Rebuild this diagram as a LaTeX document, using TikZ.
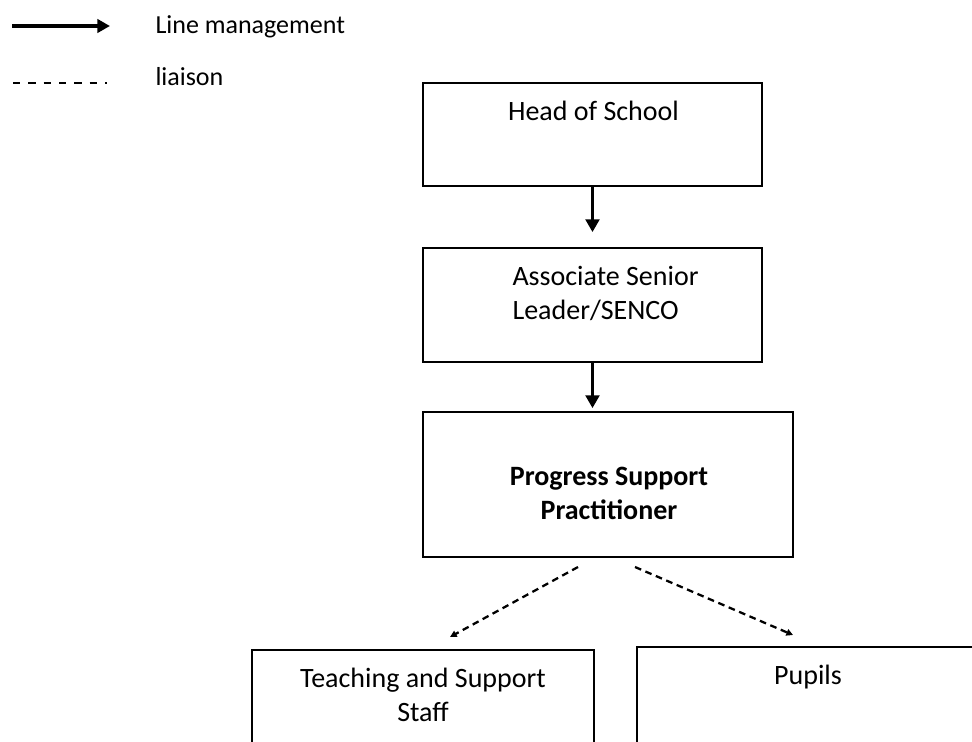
\documentclass[tikz,border=0pt]{standalone}
\usepackage{fontspec}
\setmainfont{Carlito}
\usetikzlibrary{arrows.meta,calc}

\tikzset{every picture/.style={line width=0.75pt}}
\tikzset{
  box/.style={draw, line width=1.25pt, inner sep=0pt, outer sep=0pt, anchor=north west},
  boxtext/.style={inner sep=0pt, font=\fontsize{21}{25}\selectfont},
  legendtext/.style={inner sep=0pt, anchor=base west, font=\fontsize{19.5}{23}\selectfont},
  manage/.style={line width=1.6pt, -{Triangle[length=9.5pt,width=10.5pt]}},
  liaise/.style={line width=1.7pt, dash pattern=on 5pt off 3.5pt, -{Triangle[length=5pt,width=5pt]}},
}

\begin{document}
\begin{tikzpicture}[x=0.75pt,y=0.75pt,yscale=-1,xscale=1]
\clip (0,0) rectangle (972,742);

%Legend
\coordinate (lmstart) at (12,26);
\coordinate (lmend) at (110,26);
\draw [line width=2.8pt, -{Triangle[length=9.5pt,width=10pt]}] (lmstart) -- (lmend);
\node [legendtext] (lmtext) at (155,34) {Line management};
\coordinate (listart) at (13,83);
\coordinate (liend) at (107,83);
\draw [line width=1.9pt, dash pattern=on 5.5pt off 6pt] (listart) -- (liend);
\node [legendtext] (litext) at (155,86) {liaison};

%Boxes
\node [box, minimum width=254.25pt, minimum height=77.25pt] (head) at (423,83) {};
\node [box, minimum width=254.25pt, minimum height=85.5pt] (asl) at (423,248) {};
\node [box, minimum width=277.5pt, minimum height=108.75pt] (psp) at (423,412) {};
\node [box, minimum width=256.5pt, minimum height=97.5pt] (staff) at (252,650) {};
\node [box, minimum width=257.25pt, minimum height=97.5pt] (pupils) at (637,647) {};

% Text Node
\node [boxtext] (headtext) at (593.5,111) {Head of School};
% Text Node
\node [boxtext, align=left, anchor=west] (asltext) at (512,293.5) {Associate Senior\\Leader/SENCO};
% Text Node
\node [boxtext, align=center, font=\fontsize{21}{25}\selectfont\bfseries] (psptext) at (609,493.5) {Progress Support\\Practitioner};
% Text Node
\node [boxtext, align=center] (stafftext) at (423,695) {Teaching and Support\\Staff};
% Text Node
\node [boxtext] (pupilstext) at (808,677) {Pupils};

%Straight Lines
\draw [manage, shorten >=12pt] (head.south) -- (asl.north);
\draw [manage, shorten >=3pt] (asl.south) -- (asl.south |- psp.north);
%Dashed Lines
\draw [liaise] ($(psp.south)+(-30,10)$) -- ($(staff.north)+(27,-13)$);
\draw [liaise] ($(psp.south)+(27,10)$) -- ($(pupils.north)+(-15.5,-12)$);

\end{tikzpicture}
\end{document}
